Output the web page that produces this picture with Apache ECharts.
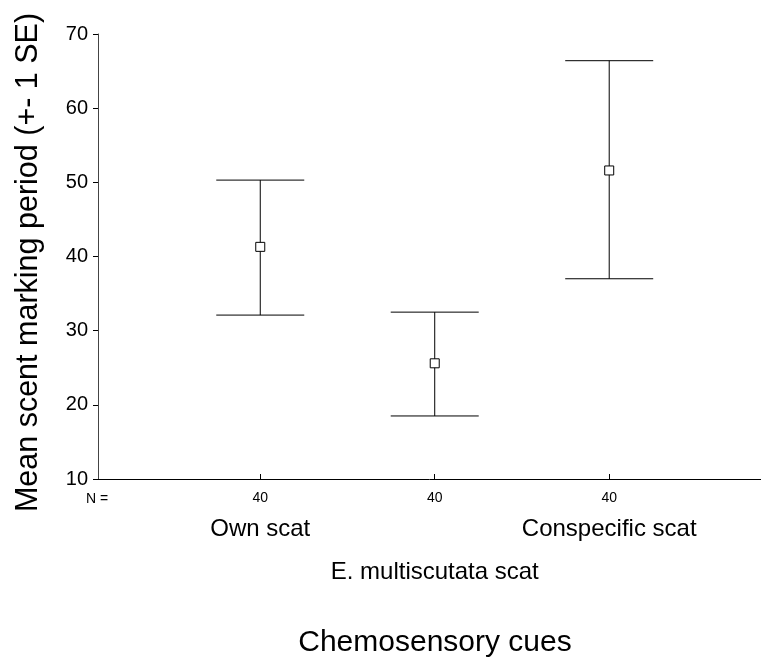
<!DOCTYPE html>
<html>
<head>
<meta charset="utf-8">
<style>
  html, body { margin: 0; padding: 0; background: #fff; }
  #chart { width: 761px; height: 657px; }
</style>
<script src="https://cdn.jsdelivr.net/npm/echarts@6/dist/echarts.min.js"></script>
</head>
<body>
<div id="chart"></div>
<script>
// 数据
const groups = ['Own scat', 'E. multiscutata scat', 'Conspecific scat'];
const groupPos = [1, 2, 3];
const nCounts = [40, 40, 40];
const means = [41.3, 25.6, 51.6];
const upperSE = [50.3, 32.5, 66.4];
const lowerSE = [32.1, 18.5, 37.0];
const yTicks = [10, 20, 30, 40, 50, 60, 70];

const fontFamily = "'Liberation Sans', Arial, sans-serif";

const chart = echarts.init(document.getElementById('chart'));

// 误差线 + 均值点
const barData = groupPos.map((x, i) => [x, lowerSE[i], upperSE[i]]);
const meanData = groupPos.map((x, i) => [x, means[i]]);

// 交错的组标签:奇数行 / 偶数行
const rowA = groupPos.filter((_, i) => i % 2 === 0);
const rowB = groupPos.filter((_, i) => i % 2 === 1);

function groupAxis(values, margin) {
    return {
        type: 'value',
        position: 'bottom',
        min: 0.07,
        max: 3.87,
        splitLine: { show: false },
        axisLine: { show: false },
        axisTick: { show: false },
        axisLabel: {
            customValues: values,
            hideOverlap: false,
            showMinLabel: true,
            showMaxLabel: true,
            margin: margin,
            fontSize: 24,
            fontFamily: fontFamily,
            color: '#000',
            formatter: (v) => groups[groupPos.indexOf(v)]
        }
    };
}

const option = {
    animation: false,
    backgroundColor: '#fff',
    grid: { left: 98, right: 0, top: 34, bottom: 178, containLabel: false, outerBoundsMode: 'none' },
    graphic: [{
        type: 'text',
        left: 86,
        top: 492,
        style: { text: 'N =', fontSize: 14, fontFamily: fontFamily, fill: '#000' }
    }],
    xAxis: [
        {
            type: 'value',
            min: 0.07,
            max: 3.87,
            splitLine: { show: false },
            axisLine: { show: true, lineStyle: { color: '#000', width: 1 } },
            axisTick: { show: true, inside: true, length: 5, customValues: groupPos, lineStyle: { color: '#000' } },
            axisLabel: {
                customValues: groupPos,
                hideOverlap: false,
                margin: 12,
                fontSize: 14,
                fontFamily: fontFamily,
                color: '#000',
                formatter: (v) => String(nCounts[groupPos.indexOf(v)])
            },
            name: 'Chemosensory cues',
            nameLocation: 'middle',
            nameGap: 149,
            nameTextStyle: { fontSize: 30, fontFamily: fontFamily, color: '#000', padding: [0, 0, 0, 11] }
        },
        groupAxis(rowA, 38),
        groupAxis(rowB, 81)
    ],
    yAxis: {
        type: 'value',
        min: 10,
        max: 70,
        interval: 10,
        splitLine: { show: false },
        axisLine: { show: true, lineStyle: { color: '#444', width: 1 } },
        axisTick: { show: true, length: 5, lineStyle: { color: '#000' } },
        axisLabel: {
            margin: 10,
            fontSize: 20,
            fontFamily: fontFamily,
            color: '#000',
            formatter: (v) => yTicks.includes(v) ? String(v) : ''
        },
        name: 'Mean scent marking period (+- 1 SE)',
        nameLocation: 'middle',
        nameGap: 54,
        nameTextStyle: { fontSize: 30.5, fontFamily: fontFamily, color: '#000', padding: [0, 12, 0, 0] }
    },
    series: [
        {
            type: 'custom',
            data: barData,
            encode: { x: 0, y: [1, 2] },
            z: 2,
            renderItem: function (params, api) {
                const x = api.value(0);
                const lo = api.coord([x, api.value(1)]);
                const hi = api.coord([x, api.value(2)]);
                const half = 44;
                const style = { stroke: '#000', lineWidth: 1 };
                return {
                    type: 'group',
                    children: [
                        { type: 'line', shape: { x1: lo[0], y1: lo[1], x2: hi[0], y2: hi[1] }, style: style },
                        { type: 'line', shape: { x1: hi[0] - half, y1: hi[1], x2: hi[0] + half, y2: hi[1] }, style: style },
                        { type: 'line', shape: { x1: lo[0] - half, y1: lo[1], x2: lo[0] + half, y2: lo[1] }, style: style }
                    ]
                };
            }
        },
        {
            type: 'scatter',
            data: meanData,
            symbol: 'rect',
            symbolSize: 9,
            z: 3,
            itemStyle: { color: '#fff', borderColor: '#000', borderWidth: 1, opacity: 1 }
        }
    ]
};

chart.setOption(option);
</script>
</body>
</html>
